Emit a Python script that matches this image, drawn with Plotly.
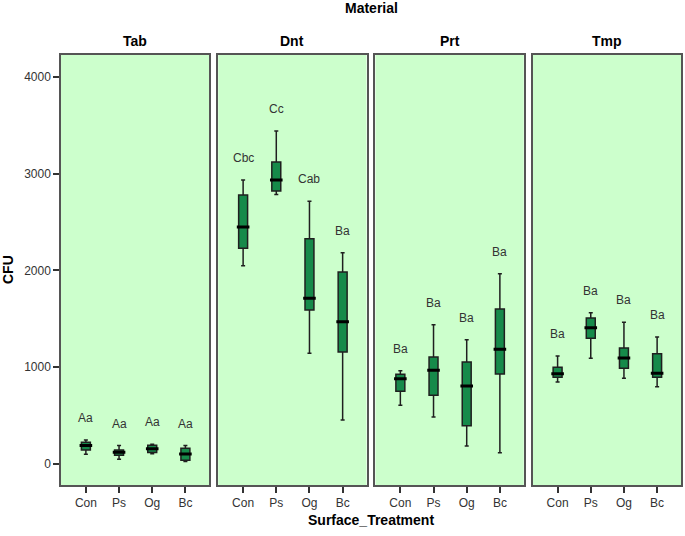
import plotly.graph_objects as go
from plotly.subplots import make_subplots

materials = ["Tab", "Dnt", "Prt", "Tmp"]
treatments = ["Con", "Ps", "Og", "Bc"]

# five-number summaries per material, in treatment order
lower = {
    "Tab": [100, 50, 105, 25],
    "Dnt": [2050, 2785, 1145, 455],
    "Prt": [607, 486, 186, 117],
    "Tmp": [848, 1092, 886, 799],
}
q1 = {
    "Tab": [145, 90, 120, 40],
    "Dnt": [2229, 2822, 1592, 1158],
    "Prt": [751, 710, 396, 930],
    "Tmp": [896, 1299, 989, 896],
}
median = {
    "Tab": [190, 122, 158, 103],
    "Dnt": [2450, 2935, 1713, 1471],
    "Prt": [882, 968, 806, 1186],
    "Tmp": [933, 1409, 1096, 937],
}
q3 = {
    "Tab": [224, 145, 193, 162],
    "Dnt": [2780, 3121, 2329, 1985],
    "Prt": [927, 1106, 1054, 1602],
    "Tmp": [999, 1509, 1199, 1140],
}
upper = {
    "Tab": [248, 190, 205, 190],
    "Dnt": [2935, 3442, 2715, 2184],
    "Prt": [965, 1440, 1285, 1967],
    "Tmp": [1116, 1564, 1464, 1313],
}
letters = {
    "Tab": ["Aa", "Aa", "Aa", "Aa"],
    "Dnt": ["Cbc", "Cc", "Cab", "Ba"],
    "Prt": ["Ba", "Ba", "Ba", "Ba"],
    "Tmp": ["Ba", "Ba", "Ba", "Ba"],
}
y_ticks = [0, 1000, 2000, 3000, 4000]

FONT = "Liberation Sans, Arial, sans-serif"
fig = make_subplots(rows=1, cols=4, shared_yaxes=True, horizontal_spacing=9 / 623)

for i, m in enumerate(materials):
    col = i + 1
    fig.add_trace(
        go.Box(
            x=treatments,
            q1=q1[m], median=median[m], q3=q3[m],
            lowerfence=lower[m], upperfence=upper[m],
            fillcolor="#168A4A",
            line=dict(color="#1f1f1f", width=1.5),
            width=0.27,
            whiskerwidth=0.45,
            boxpoints=False,
            showlegend=False,
            hoverinfo="skip",
        ),
        row=1, col=col,
    )
    fig.add_trace(
        go.Scatter(
            x=treatments, y=median[m], mode="markers",
            marker=dict(symbol="line-ew", size=9,
                        line=dict(color="black", width=3)),
            showlegend=False, hoverinfo="skip",
        ),
        row=1, col=col,
    )
    xref = "x" if col == 1 else f"x{col}"
    yref = "y" if col == 1 else f"y{col}"
    for t, u, lab in zip(treatments, upper[m], letters[m]):
        fig.add_annotation(
            x=t, y=u, xref=xref, yref=yref, text=lab, showarrow=False,
            yanchor="bottom", yshift=13,
            font=dict(family=FONT, size=12, color="#333"),
        )
    # panel title
    fig.add_annotation(
        x=0.5, y=1, xref=f"{xref} domain", yref="paper", text=f"<b>{m}</b>",
        showarrow=False, yanchor="bottom", yshift=4,
        font=dict(family=FONT, size=14, color="black"),
    )
    fig.update_xaxes(
        type="category", categoryorder="array", categoryarray=treatments,
        range=[-0.75, 3.72],
        showline=True, mirror=True, linecolor="#555", linewidth=1.5,
        ticks="outside", ticklen=6, tickcolor="#333", tickwidth=1.5,
        showgrid=False, zeroline=False,
        tickfont=dict(family=FONT, size=12, color="#333"),
        row=1, col=col,
    )
    fig.update_yaxes(
        range=[-217, 4227],
        showline=True, mirror=True, linecolor="#555", linewidth=1.5,
        showgrid=False, zeroline=False,
        row=1, col=col,
    )

fig.update_yaxes(
    tickvals=y_ticks, ticktext=[str(v) for v in y_ticks],
    ticks="outside", ticklen=6, tickcolor="#333", tickwidth=1.5,
    tickfont=dict(family=FONT, size=12, color="#333"),
    row=1, col=1,
)

fig.add_annotation(
    x=0.5, y=1, xref="paper", yref="paper", text="<b>Material</b>",
    showarrow=False, yanchor="middle", yshift=47,
    font=dict(family=FONT, size=14, color="black"),
)
fig.add_annotation(
    x=0.5, y=0, xref="paper", yref="paper", text="<b>Surface_Treatment</b>",
    showarrow=False, yanchor="middle", yshift=-35,
    font=dict(family=FONT, size=14, color="black"),
)
fig.add_annotation(
    x=0, y=0.5, xref="paper", yref="paper", text="<b>CFU</b>",
    showarrow=False, xanchor="center", xshift=-53, textangle=-90,
    font=dict(family=FONT, size=14, color="black"),
)

fig.update_layout(
    width=685, height=536,
    margin=dict(l=61, r=2, t=55, b=51),
    paper_bgcolor="white",
    plot_bgcolor="#CCFFCC",
    showlegend=False,
)

fig.write_html(
    "out.html",
    config={"displayModeBar": False},
    post_script="document.body.style.margin='0';document.body.style.padding='0';",
)
